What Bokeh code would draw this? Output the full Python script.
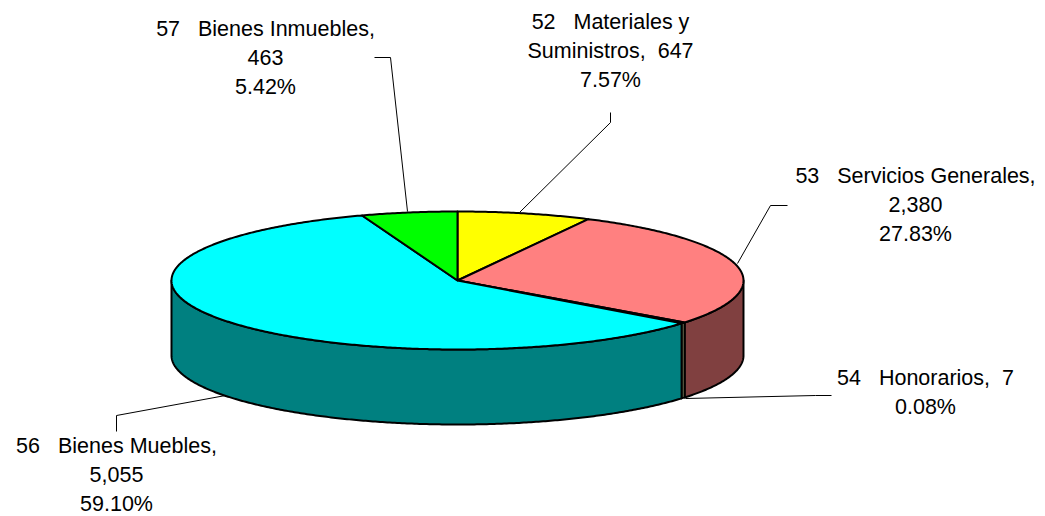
import numpy as np
from bokeh.plotting import figure
from bokeh.models import Range1d
from bokeh.core.properties import value
from bokeh.embed import file_html
from bokeh.resources import INLINE

categories = ["52 Materiales y Suministros", "53 Servicios Generales", "54 Honorarios", "56 Bienes Muebles", "57 Bienes Inmuebles"]
values = [647, 2380, 7, 5055, 463]
top_colors = ["#FFFF00", "#FF8080", "#FFFF99", "#00FFFF", "#00FF00"]
side_colors = ["#808000", "#804040", "#808060", "#008080", "#008000"]
label_lines = [
    ["52\u00a0\u00a0\u00a0Materiales y", "Suministros,\u00a0\u00a0647", "7.57%"],
    ["53\u00a0\u00a0\u00a0Servicios Generales,", "2,380", "27.83%"],
    ["54\u00a0\u00a0\u00a0Honorarios,\u00a0\u00a07", "0.08%"],
    ["56\u00a0\u00a0\u00a0Bienes Muebles,", "5,055", "59.10%"],
    ["57\u00a0\u00a0\u00a0Bienes Inmuebles,", "463", "5.42%"],
]
label_anchor = [(610, 21), (915, 175), (925, 377), (116, 445), (265, 28)]
leaders = [
    ([519, 610, 610], [212, 122, 112]),
    ([737, 770, 787], [263, 205, 205]),
    ([685, 815, 831], [398, 395, 395]),
    ([225, 116, 116], [395, 415, 431]),
    ([407, 390, 374], [211, 57, 57]),
]

CX, CY, RX, RY, DEPTH = 457, 280, 286, 69, 75
LINE_H = 29.3
MIN_SWEEP = 1.0

fig_w, fig_h = 1045, 516
p = figure(width=fig_w, height=fig_h, output_backend="svg", toolbar_location=None,
           x_range=Range1d(0, fig_w), y_range=Range1d(fig_h, 0),
           min_border=0, outline_line_color=None, background_fill_color="white")
p.axis.visible = False
p.grid.visible = False

sweeps = np.array(values, dtype=float) / sum(values) * 360
excess = max(0, MIN_SWEEP - sweeps[2])
sweeps[2] += excess
sweeps[3] -= excess
ends = np.cumsum(sweeps)
starts = ends - sweeps


def pt(a, dy=0):
    r = np.radians(a)
    return CX + RX * np.sin(r), CY - RY * np.cos(r) + dy


# sides of the visible front half
sx, sy, sc = [], [], []
for s, e, col in zip(starts, ends, side_colors):
    lo, hi = max(s, 90), min(e, 270)
    if hi <= lo:
        continue
    a = np.linspace(lo, hi, max(3, int((hi - lo) * 2)))
    x0, y0 = pt(a)
    x1, y1 = pt(a[::-1], DEPTH)
    sx.append(np.r_[x0, x1].tolist())
    sy.append(np.r_[y0, y1].tolist())
    sc.append(col)
p.patches(sx, sy, fill_color=sc, line_color="black", line_width=2, line_join="round")

# top faces
tx, ty = [], []
for s, e in zip(starts, ends):
    a = np.linspace(s, e, max(3, int((e - s) * 2)))
    x0, y0 = pt(a)
    tx.append(np.r_[CX, x0].tolist())
    ty.append(np.r_[CY, y0].tolist())
p.patches(tx, ty, fill_color=top_colors, line_color="black", line_width=2, line_join="round")

# leader lines
p.multi_line([l[0] for l in leaders], [l[1] for l in leaders], line_color="black", line_width=1)

# labels
lx, ly, lt = [], [], []
for lines, (x, y) in zip(label_lines, label_anchor):
    for i, t in enumerate(lines):
        lx.append(x)
        ly.append(y + i * LINE_H)
        lt.append(t)
p.text(lx, ly, text=lt, text_font=value("Liberation Sans"), text_font_size="21.5px",
       text_align="center", text_baseline="middle", text_color="black")

open("out.html", "w").write(file_html(p, INLINE))
